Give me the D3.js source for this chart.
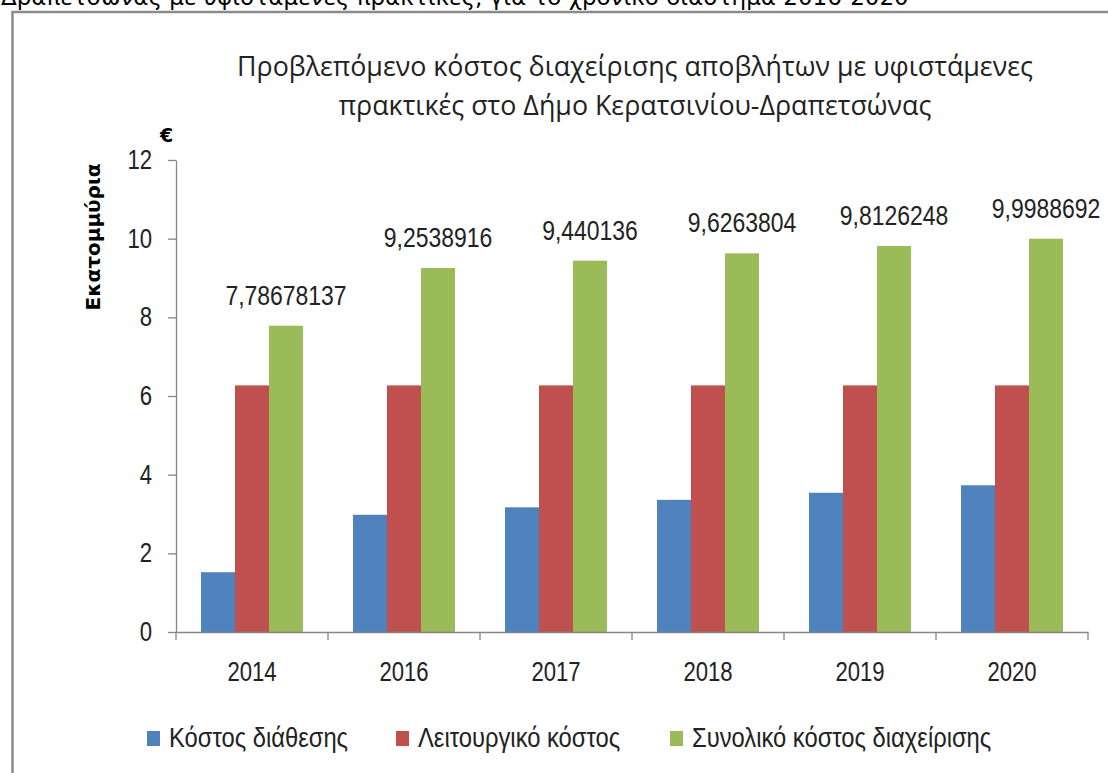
<!DOCTYPE html>
<html><head><meta charset="utf-8">
<script src="https://cdn.jsdelivr.net/npm/d3@7"></script>
<style>body{margin:0;background:#fff;overflow:hidden} svg{display:block}</style>
</head><body><svg id="c" width="1108" height="773"></svg>
<script>
const categories = ["2014","2016","2017","2018","2019","2020"];
const seriesNames = ["Κόστος διάθεσης","Λειτουργικό κόστος","Συνολικό κόστος διαχείρισης"];
const disposalCost = [1.52, 2.98, 3.17, 3.36, 3.54, 3.73];
const operatingCost = [6.27, 6.27, 6.27, 6.27, 6.27, 6.27];
const totalCost = [7.78678137, 9.2538916, 9.440136, 9.6263804, 9.8126248, 9.9988692];
const totalLabels = ["7,78678137","9,2538916","9,440136","9,6263804","9,8126248","9,9988692"];
const yTicks = [0, 2, 4, 6, 8, 10, 12];
const colors = ["#4F81BD", "#C0504D", "#9BBB59"];
const titleLines = ["Προβλεπόμενο κόστος διαχείρισης αποβλήτων με υφιστάμενες",
                    "πρακτικές στο Δήμο Κερατσινίου-Δραπετσώνας"];
const caption = "Δραπετσώνας με υφιστάμενες πρακτικές, για το χρονικό διάστημα 2016-2020";
const yTitle = "Εκατομμύρια";
const unit = "€";

(function () {
const series = [disposalCost, operatingCost, totalCost];
const svg = d3.select("#c");
const font = "'Liberation Sans', Arial, sans-serif";
const axisColor = "#868686";
const sxNum = 0.82, sxLeg = 0.88;

svg.append("text").attr("x", 1).attr("y", 5)
  .attr("font-family", "'DejaVu Sans', Verdana, sans-serif").attr("font-size", 23)
  .attr("fill", "#000").text(caption);

svg.append("rect").attr("x", 12.5).attr("y", 12).attr("width", 1300).attr("height", 900)
  .attr("fill", "#fff").attr("stroke", "#8a8a8a").attr("stroke-width", 2.5);

const pl = 176, pr = 1088, pt = 160, pb = 632;
const x0 = d3.scaleBand().domain(categories).range([pl, pr]).padding(0);
const x1 = d3.scaleBand().domain(d3.range(series.length)).range([0, x0.bandwidth()])
  .paddingInner(0).paddingOuter(0.735);
const y = d3.scaleLinear().domain([0, 12]).range([pb, pt]);

const title = svg.append("text").attr("text-anchor", "middle")
  .attr("font-family", "'Open Sans', sans-serif").attr("font-size", 26.8).attr("fill", "#222");
titleLines.forEach((t, i) => {
  title.append("tspan").attr("x", 635).attr("y", 76 + i * 39).text(t);
});

const yAxis = d3.axisLeft(y).tickValues(yTicks).tickSize(8).tickSizeOuter(0).tickPadding(16)
  .tickFormat(d3.format("d"));
const gy = svg.append("g").attr("transform", `translate(${pl},0)`).call(yAxis);
gy.select(".domain").attr("stroke", axisColor).attr("stroke-width", 1.3);
gy.selectAll(".tick line").attr("stroke", axisColor).attr("stroke-width", 1.3);
gy.selectAll(".tick text").attr("font-family", font).attr("font-size", 27).attr("fill", "#222")
  .attr("x", -24 / sxNum).attr("transform", `scale(${sxNum},1)`);

const groups = svg.append("g").selectAll("g").data(categories).join("g")
  .attr("transform", d => `translate(${x0(d)},0)`);
groups.selectAll("rect").data((d, i) => series.map((s, k) => ({k, v: s[i]}))).join("rect")
  .attr("x", d => x1(d.k)).attr("width", x1.bandwidth())
  .attr("y", d => y(d.v)).attr("height", d => y(0) - y(d.v))
  .attr("fill", d => colors[d.k]);

const xAxis = d3.axisBottom(x0).tickSize(0).tickPadding(30).tickSizeOuter(0);
const gx = svg.append("g").attr("transform", `translate(0,${pb})`).call(xAxis);
gx.select(".domain").attr("stroke", axisColor).attr("stroke-width", 1.3);
gx.selectAll(".tick text").attr("font-family", font).attr("font-size", 27).attr("fill", "#222")
  .attr("transform", `scale(${sxNum},1)`);
const bounds = categories.map(c => x0(c)).concat([pr]);
gx.selectAll("line.sep").data(bounds).join("line").attr("class", "sep")
  .attr("x1", d => d).attr("x2", d => d).attr("y1", 0).attr("y2", 8)
  .attr("stroke", axisColor).attr("stroke-width", 1.3);

svg.append("g").selectAll("text").data(categories).join("text")
  .attr("transform", (c, i) =>
    `translate(${x0(c) + x1(2) + x1.bandwidth() / 2},${y(totalCost[i]) - 21}) scale(${sxNum},1)`)
  .attr("text-anchor", "middle").attr("font-family", font).attr("font-size", 28)
  .attr("fill", "#222").text((c, i) => totalLabels[i]);

svg.append("text").attr("transform", "translate(100,237) rotate(-90)")
  .attr("text-anchor", "middle").attr("font-family", "'DejaVu Sans', sans-serif")
  .attr("font-weight", "bold").attr("font-size", 20).attr("fill", "#000").text(yTitle);
svg.append("text").attr("x", 166.5).attr("y", 142).attr("text-anchor", "middle")
  .attr("font-family", "'DejaVu Sans', sans-serif").attr("font-weight", "bold")
  .attr("font-size", 19).attr("fill", "#000").text(unit);

const legendX = [147, 396, 670];
const lg = svg.append("g").selectAll("g").data(seriesNames).join("g")
  .attr("transform", (d, i) => `translate(${legendX[i]},0)`);
lg.append("rect").attr("x", 0).attr("y", 731).attr("width", 13).attr("height", 15)
  .attr("fill", (d, i) => colors[i]);
lg.append("text").attr("transform", `translate(22,747) scale(${sxLeg},1)`).attr("font-family", font)
  .attr("font-size", 27).attr("fill", "#222").text(d => d);
})();
</script></body></html>
